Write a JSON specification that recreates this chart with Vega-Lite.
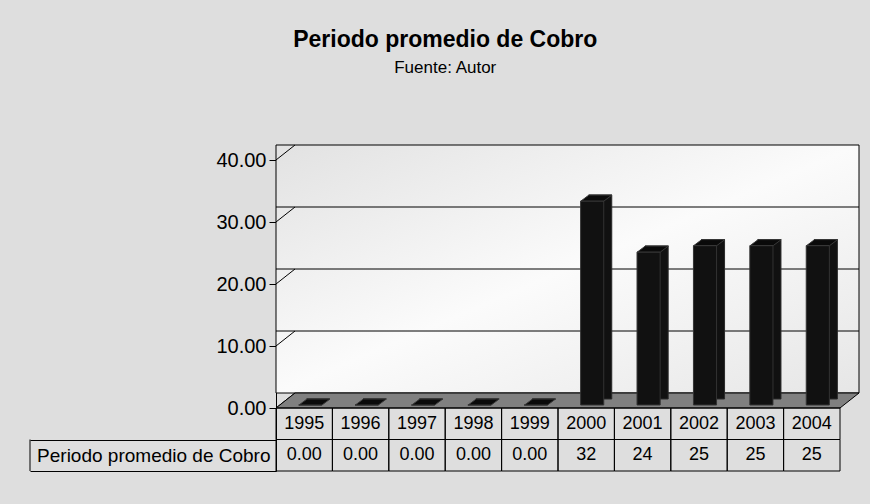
{
  "$schema": "https://vega.github.io/schema/vega-lite/v6.json",
  "background": "#dedede",
  "padding": {"left": 29, "top": 28, "right": 12, "bottom": 34},
  "title": {
    "text": "Periodo promedio de Cobro",
    "subtitle": "Fuente: Autor",
    "anchor": "middle",
    "fontSize": 23,
    "fontWeight": "bold",
    "color": "black",
    "subtitleFontSize": 17,
    "subtitleColor": "black",
    "subtitlePadding": 8,
    "offset": 69
  },
  "data": {
    "values": [
      {"year": "1995", "value": 0, "shown": "0.00"},
      {"year": "1996", "value": 0, "shown": "0.00"},
      {"year": "1997", "value": 0, "shown": "0.00"},
      {"year": "1998", "value": 0, "shown": "0.00"},
      {"year": "1999", "value": 0, "shown": "0.00"},
      {"year": "2000", "value": 32, "shown": "32"},
      {"year": "2001", "value": 24, "shown": "24"},
      {"year": "2002", "value": 25, "shown": "25"},
      {"year": "2003", "value": 25, "shown": "25"},
      {"year": "2004", "value": 25, "shown": "25"}
    ]
  },
  "spacing": 0,
  "bounds": "flush",
  "vconcat": [
    {
      "width": 564,
      "height": 248,
      "encoding": {
        "x": {"field": "year", "type": "nominal", "axis": null, "scale": {"paddingInner": 0, "paddingOuter": 0}}
      },
      "layer": [
        {
          "layer": [
            {
              "data": {"values": [{}]},
              "mark": {
                "type": "rect",
                "fill": {"gradient": "linear", "x1": 0, "y1": 0, "x2": 1, "y2": 1,
                  "stops": [{"offset": 0, "color": "#e2e2e2"}, {"offset": 0.5, "color": "#fbfbfb"}, {"offset": 1, "color": "#e6e6e6"}]},
                "stroke": "black",
                "strokeWidth": 1,
                "xOffset": 19, "x2Offset": 19, "yOffset": -15, "y2Offset": -15
              },
              "encoding": {
                "x": null,
                "y": {"datum": 40, "type": "quantitative", "scale": {"domain": [0, 40], "nice": false}},
                "y2": {"datum": 0}
              }
            },
            {
              "data": {"values": [{"g": 10}, {"g": 20}, {"g": 30}]},
              "mark": {"type": "rule", "color": "black", "strokeWidth": 1, "xOffset": 19, "x2Offset": 19, "yOffset": -15, "y2Offset": -15},
              "encoding": {
                "x": null,
                "y": {"field": "g", "type": "quantitative"}
              }
            },
            {
              "data": {"values": [{"t": 0}, {"t": 10}, {"t": 20}, {"t": 30}, {"t": 40}]},
              "mark": {"type": "rule", "color": "black", "strokeWidth": 1, "x2Offset": 19, "y2Offset": -15},
              "encoding": {
                "x": {"value": 0},
                "x2": {"value": 0},
                "y": {
                  "field": "t", "type": "quantitative",
                  "axis": {"values": [0, 10, 20, 30, 40], "format": ".2f", "title": null, "grid": false, "tickSize": 7, "labelFontSize": 20, "labelColor": "black", "domainColor": "black", "tickColor": "black", "labelPadding": 3, "labelFont": "Liberation Sans"}
                },
                "y2": {"field": "t"}
              }
            },
            {
              "data": {"values": [{}]},
              "mark": {
                "type": "point",
                "filled": true,
                "opacity": 1,
                "fill": "#808080",
                "stroke": "black",
                "strokeWidth": 1,
                "size": 339889,
                "shape": "M-1,0.02573L0.9348,0.02573L1,-0.02573L-0.9348,-0.02573Z",
                "xOffset": 9.5,
                "yOffset": -7.5
              },
              "encoding": {
                "x": null,
                "y": {"datum": 0, "type": "quantitative"}
              }
            }
          ]
        },
        {
          "layer": [
            {
              "mark": {"type": "bar", "fill": "#111111", "stroke": "#2a2a2a", "strokeWidth": 1, "width": {"band": 0.41}, "xOffset": 14, "yOffset": -6, "y2Offset": -6},
              "encoding": {
                "y": {"field": "value", "type": "quantitative", "axis": null, "scale": {"domain": [-0.4706, 38.431], "nice": false, "zero": false}},
                "y2": {"datum": 0}
              }
            },
            {
              "mark": {"type": "bar", "fill": "#111111", "stroke": "#333333", "strokeWidth": 1, "width": {"band": 0.41}, "xOffset": 6},
              "encoding": {
                "y": {"field": "value", "type": "quantitative", "axis": null},
                "y2": {"datum": 0}
              }
            },
            {
              "mark": {
                "type": "point",
                "filled": true,
                "opacity": 1,
                "fill": "#0a0a0a",
                "stroke": "#3a3a3a",
                "strokeWidth": 1,
                "size": 1024,
                "shape": "M-0.969,0.1875L0.469,0.1875L0.969,-0.1875L-0.469,-0.1875Z",
                "xOffset": 10.3,
                "yOffset": -3
              },
              "encoding": {
                "y": {"field": "value", "type": "quantitative", "axis": null}
              }
            }
          ]
        }
      ],
      "resolve": {"scale": {"y": "independent"}}
    },
    {
      "width": 564,
      "height": 63,
      "encoding": {
        "x": {"field": "year", "type": "nominal", "axis": null, "scale": {"paddingInner": 0, "paddingOuter": 0}}
      },
      "layer": [
        {
          "mark": {"type": "rect", "fill": "transparent", "stroke": "black", "strokeWidth": 1},
          "encoding": {
            "y": {
              "datum": "year", "type": "nominal",
              "scale": {"domain": ["year", "value"], "paddingInner": 0, "paddingOuter": 0},
              "axis": {"values": ["value"], "labelExpr": "datum.value == 'value' ? 'Periodo promedio de Cobro' : ''", "labelLimit": 0, "tickBand": "extent", "tickSize": 246, "labelPadding": -240, "title": null, "domain": true, "domainColor": "black", "tickColor": "black", "labelFontSize": 19, "labelColor": "black", "labelFont": "Liberation Sans", "grid": false}
            }
          }
        },
        {
          "mark": {"type": "rect", "fill": "transparent", "stroke": "black", "strokeWidth": 1},
          "encoding": {"y": {"datum": "value", "type": "nominal"}}
        },
        {
          "data": {"values": [{}]},
          "mark": {"type": "rule", "color": "black", "strokeWidth": 1, "xOffset": -246},
          "encoding": {
            "x": {"value": 0},
            "y": {"datum": "value", "type": "nominal", "bandPosition": 0},
            "y2": {"datum": "value", "bandPosition": 1}
          }
        },
        {
          "mark": {"type": "text", "fontSize": 18, "color": "black"},
          "encoding": {"y": {"datum": "year", "type": "nominal"}, "text": {"field": "year"}}
        },
        {
          "mark": {"type": "text", "fontSize": 18, "color": "black"},
          "encoding": {"y": {"datum": "value", "type": "nominal"}, "text": {"field": "shown"}}
        }
      ]
    }
  ],
  "config": {
    "font": "Liberation Sans",
    "view": {"stroke": null}
  }
}
